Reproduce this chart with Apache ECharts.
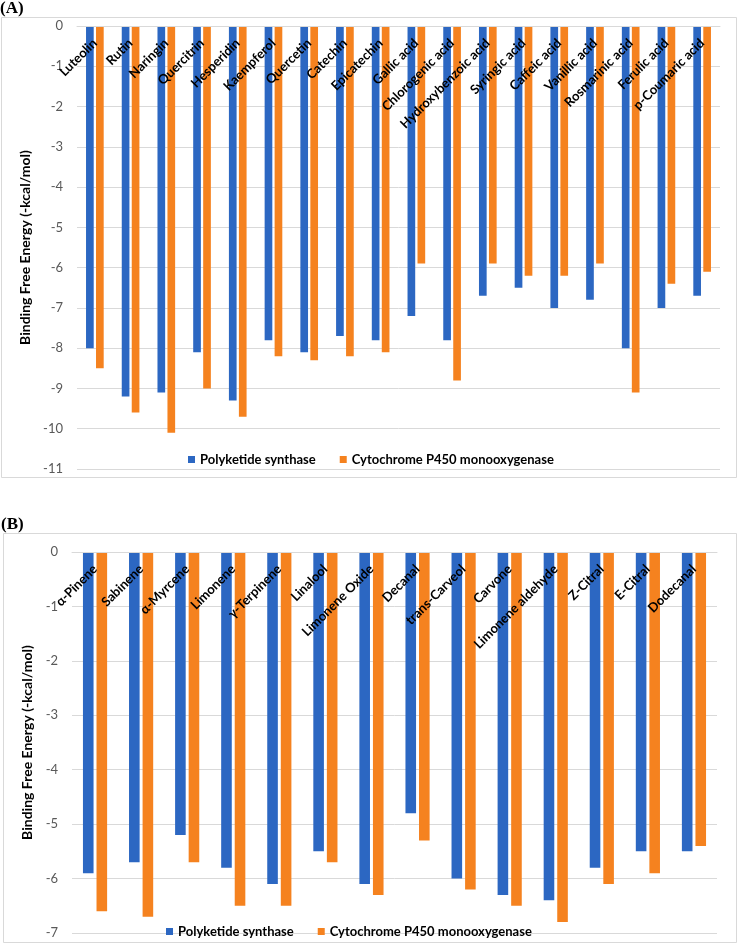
<!DOCTYPE html>
<html>
<head>
<meta charset="utf-8">
<script src="https://cdn.jsdelivr.net/npm/echarts@6/dist/echarts.min.js"></script>
<style>
html,body{margin:0;padding:0;background:#fff;}
#c{width:738px;height:944px;}
</style>
</head>
<body>
<div id="c"></div>
<script>
const categoriesA = ["Luteolin","Rutin","Naringin","Quercitrin","Hesperidin","Kaempferol","Quercetin","Catechin","Epicatechin","Gallic acid","Chlorogenic acid","Hydroxybenzoic acid","Syringic acid","Caffeic acid","Vanillic acid","Rosmarinic acid","Ferulic acid","p-Coumaric acid"];
const pksA = [-8.0,-9.2,-9.1,-8.1,-9.3,-7.8,-8.1,-7.7,-7.8,-7.2,-7.8,-6.7,-6.5,-7.0,-6.8,-8.0,-7.0,-6.7];
const p450A = [-8.5,-9.6,-10.1,-9.0,-9.7,-8.2,-8.3,-8.2,-8.1,-5.9,-8.8,-5.9,-6.2,-6.2,-5.9,-9.1,-6.4,-6.1];

const categoriesB = ["α-Pinene","Sabinene","α-Myrcene","Limonene","γ-Terpinene","Linalool","Limonene Oxide","Decanal","trans-Carveol","Carvone","Limonene aldehyde","Z-Citral","E-Citral","Dodecanal"];
const pksB = [-5.9,-5.7,-5.2,-5.8,-6.1,-5.5,-6.1,-4.8,-6.0,-6.3,-6.4,-5.8,-5.5,-5.5];
const p450B = [-6.6,-6.7,-5.7,-6.5,-6.5,-5.7,-6.3,-5.3,-6.2,-6.5,-6.8,-6.1,-5.9,-5.4];

const seriesNames = ["Polyketide synthase","Cytochrome P450 monooxygenase"];
const yTicksA = {min:-11, max:0, interval:1};
const yTicksB = {min:-7, max:0, interval:1};

const BLUE = "#2C67C2";
const ORANGE = "#F5821F";
const FONT = "Lato, 'Open Sans', sans-serif";

const chart = echarts.init(document.getElementById('c'), null, {renderer:'canvas'});

function xAxisFor(cats, gridIndex){
  return {
    type:'category', data:cats, gridIndex:gridIndex, position:'top', z:10,
    axisLine:{show:true, lineStyle:{color:'#d9d9d9'}},
    axisTick:{show:false},
    axisLabel:{inside:true, rotate:45, interval:0, margin:15, color:'#000', fontWeight:'bold', fontSize:13, fontFamily:FONT}
  };
}
function yAxisFor(t, gridIndex, nameGap){
  return {
    type:'value', gridIndex:gridIndex, min:t.min, max:t.max, interval:t.interval,
    name:'Binding Free Energy (-kcal/mol)', nameLocation:'middle', nameGap:nameGap, nameRotate:90,
    nameTextStyle:{color:'#000', fontWeight:'bold', fontSize:14, fontFamily:FONT},
    axisLine:{show:false}, axisTick:{show:false},
    axisLabel:{color:'#595959', fontSize:13, margin:14, fontFamily:FONT},
    splitLine:{show:true, lineStyle:{color:'#d9d9d9', width:1}}
  };
}

chart.setOption({
  animation:false,
  backgroundColor:'#fff',
  grid:[
    {left:77, top:26, width:643, height:443},
    {left:72, top:552, width:645, height:381}
  ],
  xAxis:[xAxisFor(categoriesA,0), xAxisFor(categoriesB,1)],
  yAxis:[yAxisFor(yTicksA,0,44), yAxisFor(yTicksB,1,38)],
  legend:[
    {data:seriesNames, left:183, top:448, icon:'rect', itemWidth:7, itemHeight:7, itemGap:24,
     textStyle:{color:'#000', fontWeight:'bold', fontSize:13, fontFamily:FONT}},
    {data:seriesNames, left:161, top:920, icon:'rect', itemWidth:7, itemHeight:7, itemGap:24,
     textStyle:{color:'#000', fontWeight:'bold', fontSize:13, fontFamily:FONT}}
  ],
  graphic:[
    {type:'rect', shape:{x:1.5, y:17.5, width:735, height:460}, style:{fill:'none', stroke:'#d9d9d9', lineWidth:1}, z:-1},
    {type:'rect', shape:{x:3.5, y:533.5, width:733, height:409}, style:{fill:'none', stroke:'#d9d9d9', lineWidth:1}, z:-1},
    {type:'text', left:0, top:0, style:{text:'(A)', font:"bold 17px 'Liberation Serif', serif", fill:'#000'}},
    {type:'text', left:1, top:516, style:{text:'(B)', font:"bold 17px 'Liberation Serif', serif", fill:'#000'}}
  ],
  series:[
    {name:seriesNames[0], type:'bar', xAxisIndex:0, yAxisIndex:0, data:pksA, itemStyle:{color:BLUE}, barWidth:'21.5%', barGap:'30%'},
    {name:seriesNames[1], type:'bar', xAxisIndex:0, yAxisIndex:0, data:p450A, itemStyle:{color:ORANGE}, barWidth:'21.5%', barGap:'30%'},
    {name:seriesNames[0], type:'bar', xAxisIndex:1, yAxisIndex:1, data:pksB, itemStyle:{color:BLUE}, barWidth:'23%', barGap:'28%'},
    {name:seriesNames[1], type:'bar', xAxisIndex:1, yAxisIndex:1, data:p450B, itemStyle:{color:ORANGE}, barWidth:'23%', barGap:'28%'}
  ]
});
</script>
</body>
</html>
